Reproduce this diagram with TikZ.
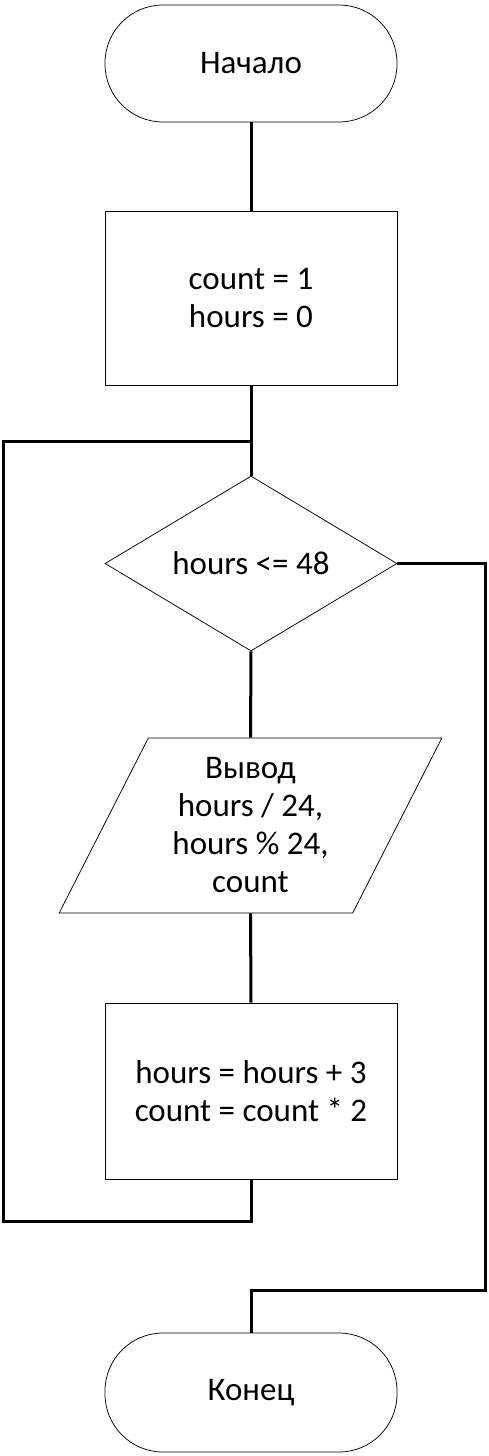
\documentclass[tikz,border=0pt]{standalone}
\usepackage{fontspec}
\setmainfont{Carlito}
\usetikzlibrary{shapes.geometric}
\begin{document}
\begin{tikzpicture}[x=1pt,y=-1pt,
  every node/.style={font=\fontsize{33}{38}\selectfont, align=center, inner sep=0pt},
  shapeline/.style={draw=black, line width=0.75pt},
  term/.style={shapeline, rectangle, rounded corners=58pt, minimum width=292pt, minimum height=117pt},
  procbox/.style={shapeline, rectangle, minimum width=292pt, minimum height=174pt},
  decide/.style={shapeline, diamond, aspect=1.67, minimum width=292pt, minimum height=175pt},
  iobox/.style={shapeline, trapezium, trapezium left angle=63.3, trapezium right angle=116.7, trapezium stretches=true, minimum width=383pt, minimum height=175pt},
  conn/.style={draw=black, line width=3pt, line join=miter}]
\useasboundingbox[fill=white] (0,0) rectangle (488,1456);
\node[term] (start) at (251,63.5) {Начало};
\node[procbox] (r1) at (251,298) {count = 1\\hours = 0};
\node[decide] (dia) at (251,563.5) {hours <= 48};
\node[iobox] (out) at (250.5,825.5) {Вывод\\hours / 24,\\hours \% 24,\\count};
\node[procbox, minimum height=176pt] (r2) at (251,1091) {hours = hours + 3\\count = count * 2};
\node[term, minimum height=119pt] (end) at (251,1392.5) {Конец};
\coordinate (j) at (251,441);
\coordinate (lt) at (3,441);
\coordinate (lb) at (3,1221);
\coordinate (rx) at (485,1290);
\draw[conn] (start.south) -- (r1.north);
\draw[conn] (r1.south) -- (dia.north);
\draw[conn] (dia.south) -- (out.north);
\draw[conn] (out.south) -- (r2.north);
\draw[conn] (r2.south) |- (lb) -- (lt) -- (j);
\draw[conn] (dia.east) -| (rx) -| (end.north);
\end{tikzpicture}
\end{document}
